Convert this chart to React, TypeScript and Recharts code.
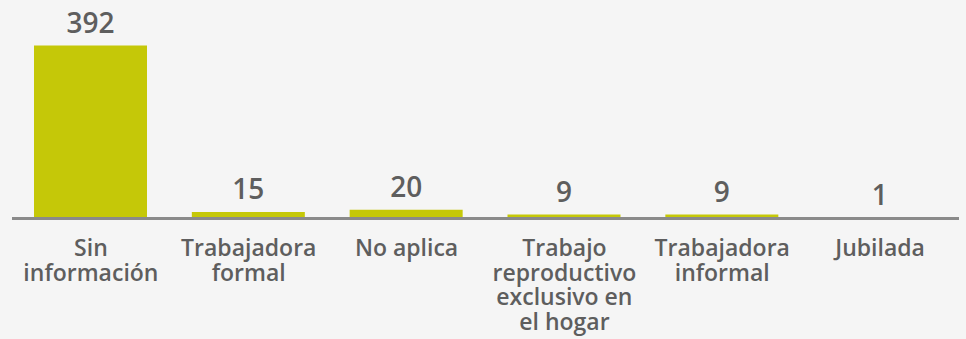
import React from 'react';
import { BarChart, Bar, XAxis, YAxis, LabelList } from 'recharts';

// situación laboral — conteos por categoría
const CATEGORIES = [
  'Sin\ninformación',
  'Trabajadora\nformal',
  'No aplica',
  'Trabajo\nreproductivo\nexclusivo en\nel hogar',
  'Trabajadora\ninformal',
  'Jubilada',
];
const COUNTS = [392, 15, 20, 9, 9, 1];

const data = CATEGORIES.map((name, i) => ({ name, value: COUNTS[i] }));

const FONT = '"Open Sans", "DejaVu Sans", sans-serif';

const CategoryTick = ({ x, y, payload }: { x?: number; y?: number; payload?: { value: string } }) => {
  const lines = String(payload?.value ?? '').split('\n');
  return (
    <text x={x} y={(y ?? 0) + 37.5} textAnchor="middle" fill="#5e5e5e" fontSize={23} fontWeight={600} fontFamily={FONT}>
      {lines.map((ln, i) => (
        <tspan key={i} x={x} dy={i === 0 ? 0 : 24.5}>{ln}</tspan>
      ))}
    </text>
  );
};

export default function App() {
  return (
    <div style={{ position: 'absolute', top: 0, left: 0, width: 966, height: 339, background: '#f5f5f5' }}>
      <BarChart
        width={966}
        height={339}
        data={data}
        margin={{ top: 45.5, right: 7, left: 12, bottom: 10.5 }}
      >
        <YAxis hide domain={[0, 392]} />
        <XAxis
          dataKey="name"
          interval={0}
          height={110}
          tickSize={0}
          tickMargin={0}
          tickLine={false}
          axisLine={{ stroke: '#8a8a8a', strokeWidth: 3 }}
          tick={<CategoryTick />}
        />
        <Bar dataKey="value" fill="#c5c808" barSize={113} isAnimationActive={false}>
          <LabelList
            dataKey="value"
            position="top"
            offset={13}
            fill="#5e5e5e"
            fontSize={28}
            fontWeight={600}
            fontFamily={FONT}
          />
        </Bar>
      </BarChart>
    </div>
  );
}
